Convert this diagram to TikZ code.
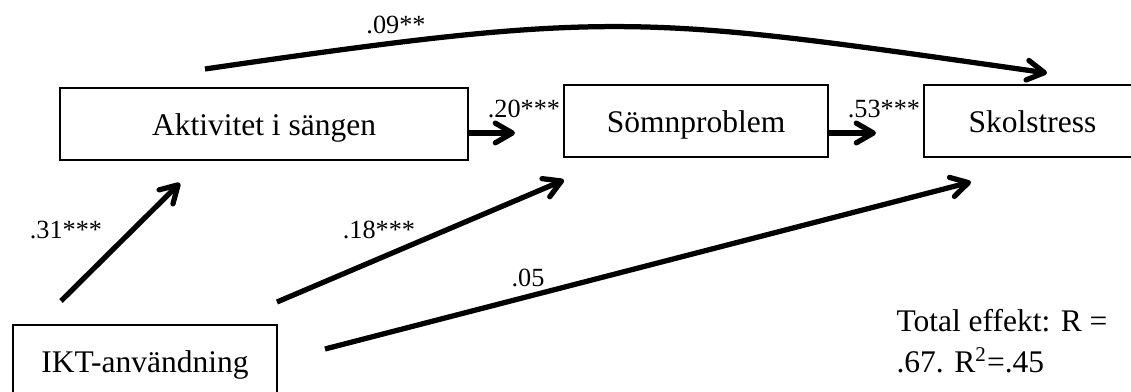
\documentclass[tikz,border=0pt]{standalone}
\usepackage{fontspec}
\setmainfont{Liberation Serif}
\usetikzlibrary{arrows.meta}

\begin{document}
\begin{tikzpicture}[x=0.381pt,y=-0.381pt,
  box/.style={draw,line width=0.6pt,minimum height=27.4pt,inner sep=0pt,text height=10pt,text depth=1.6pt,font=\fontsize{12}{14}\selectfont},
  coef/.style={anchor=base,inner sep=0pt,font=\fontsize{10}{12}\selectfont},
  effect/.style={line width=2pt,-{Straight Barb[length=6.5pt,width=7.5pt,round]}}]
\useasboundingbox (0,0) rectangle (1131,392);

\coordinate (C1) at (205,69);
\coordinate (C2) at (1047,73);
\coordinate (S1) at (515,133);
\coordinate (S2) at (876,133);
\coordinate (I1) at (61,301);
\coordinate (I2) at (277,302);
\coordinate (I3) at (325,349);
\coordinate (T1) at (180,183);
\coordinate (T2) at (564,180);
\coordinate (T3) at (971,182);

\node[box,minimum width=155.5pt] (akt) at (264,124) {Aktivitet i sängen};
\node[box,minimum width=100.6pt] (som) at (696,121) {Sömnproblem};
\node[box,minimum width=82.7pt] (skol) at (1032.5,121) {Skolstress};
\node[box,minimum width=100.6pt] (ikt) at (145,361) {IKT-användning};

\draw[effect] (C1) .. controls (617,9) and (640,15) .. (C2);
\draw[effect] (akt.east |- S1) -- (S1);
\draw[effect] (som.east |- S2) -- (S2);
\draw[effect] (I1) -- (T1);
\draw[effect] (I2) -- (T2);
\draw[effect] (I3) -- (T3);

\node[coef] (c09) at (396,34) {.09**};
\node[coef] (c20) at (524,118) {.20***};
\node[coef] (c53) at (884,118) {.53***};
\node[coef] (c31) at (66,239) {.31***};
\node[coef] (c18) at (379,239) {.18***};
\node[coef] (c05) at (528,287) {.05};
\node[anchor=base west,align=left,inner sep=0pt,font=\fontsize{12}{16}\selectfont] (tot) at (896,373) {Total effekt: R =\\.67. R\textsuperscript{2}=.45};

\end{tikzpicture}
\end{document}
